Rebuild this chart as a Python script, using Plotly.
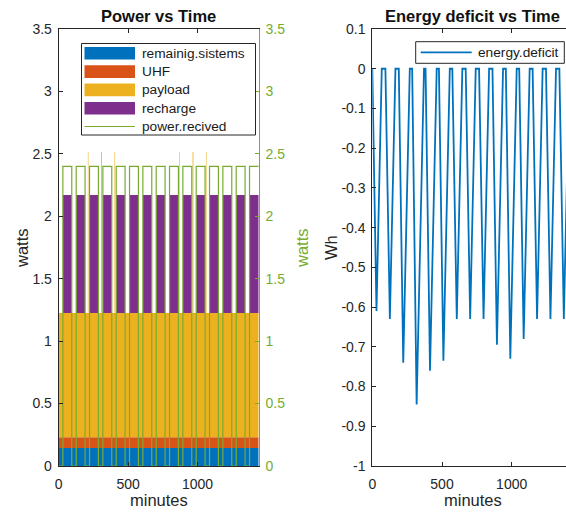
import plotly.graph_objects as go

# ---------------- data ----------------
sun_start = [30, 126, 222, 318, 414, 510, 606, 702, 798, 894, 990, 1086, 1182, 1278, 1374]
sun_end = [94, 190, 286, 382, 478, 574, 670, 766, 862, 958, 1054, 1150, 1246, 1342, 1440]
spike_start = [210, 306, 402, 868, 964, 1060]
spike_end = [214, 312, 406, 872, 970, 1064]

remaining_w = 0.145
uhf_w = 0.085
payload_w = 0.995
payload_spike_w = 2.285
recharge_w = 0.945
received_w = 2.4

deficit_t = [0, 30, 68, 94, 126, 166, 190, 222, 269, 286, 318, 371, 382, 414, 462,
             478, 510, 556, 574, 606, 646, 670, 702, 742, 766, 798, 838, 862, 894,
             938, 958, 990, 1036, 1054, 1086, 1129, 1150, 1182, 1222, 1246, 1278,
             1318, 1342, 1374, 1414, 1440]
deficit_wh = [0, -0.61, 0, 0, -0.63, 0, 0, -0.74, 0, 0, -0.845, 0, 0, -0.76, 0,
              0, -0.735, 0, 0, -0.63, 0, 0, -0.63, 0, 0, -0.63, 0, 0, -0.695,
              0, 0, -0.73, 0, 0, -0.68, 0, 0, -0.63, 0, 0, -0.63,
              0, 0, -0.63, 0, 0]

series_names = ["remainig.sistems", "UHF", "payload", "recharge", "power.recived"]
deficit_name = "energy.deficit"

x_ticks = [0, 500, 1000]
x_tick_text = ["0", "500", "1000"]
power_ticks = [0, 0.5, 1, 1.5, 2, 2.5, 3, 3.5]
power_tick_text = ["0", "0.5", "1", "1.5", "2", "2.5", "3", "3.5"]
energy_ticks = [0.1, 0, -0.1, -0.2, -0.3, -0.4, -0.5, -0.6, -0.7, -0.8, -0.9, -1]
energy_tick_text = ["0.1", "0", "-0.1", "-0.2", "-0.3", "-0.4", "-0.5", "-0.6",
                    "-0.7", "-0.8", "-0.9", "-1"]

# ---------------- styles ----------------
C_BLUE = "#0072BD"
C_ORANGE = "#D95319"
C_YELLOW = "#EDB120"
C_PURPLE = "#7E2F8E"
C_GREEN = "#77AC30"
C_AX = "#262626"
FONT = "Liberation Sans, Arial, sans-serif"
W, H = 566, 512


def px(x):
    return x / W


def py(y):
    return (H - y) / H


# step table built from the segment lists
edges = sorted(set([0, 1440] + sun_start + sun_end + spike_start + spike_end))


def in_any(t, starts, ends):
    return any(s <= t < e for s, e in zip(starts, ends))


rem, uhf, pay, rec, recv = [], [], [], [], []
for t in edges:
    tt = min(t, 1439.9)
    sun = in_any(tt, sun_start, sun_end)
    spike = in_any(tt, spike_start, spike_end)
    rem.append(remaining_w)
    uhf.append(uhf_w)
    pay.append(payload_spike_w if spike else payload_w)
    rec.append(recharge_w if sun else 0)
    recv.append(received_w if sun else 0)

fig = go.Figure()
for name, vals, col in zip(series_names[:4], [rem, uhf, pay, rec],
                           [C_BLUE, C_ORANGE, C_YELLOW, C_PURPLE]):
    fig.add_trace(go.Scatter(x=edges, y=vals, name=name, mode="lines",
                             stackgroup="power", fillcolor=col,
                             line=dict(width=0, shape="hv", color=col),
                             showlegend=False, xaxis="x", yaxis="y"))
fig.add_trace(go.Scatter(x=edges, y=recv, name=series_names[4], mode="lines",
                         line=dict(color=C_GREEN, width=1.2, shape="hv"),
                         showlegend=False, xaxis="x", yaxis="y2"))
fig.add_trace(go.Scatter(x=deficit_t, y=deficit_wh, name=deficit_name, mode="lines",
                         line=dict(color=C_BLUE, width=1.8),
                         showlegend=False, xaxis="x2", yaxis="y3"))

L0, L1 = 58.7, 258.7
R0, R1 = 372.3, 566
T0, B0 = 29, 466
tickfont = dict(family=FONT, size=14, color=C_AX)

common = dict(showgrid=False, zeroline=False, showline=True, linewidth=1,
              ticks="inside", ticklen=4, tickwidth=1, automargin=False)

fig.update_layout(
    width=W, height=H, margin=dict(l=0, r=0, t=0, b=0, pad=0, autoexpand=False),
    paper_bgcolor="white", plot_bgcolor="white", showlegend=False,
    xaxis=dict(domain=[px(L0), px(L1)], range=[0, 1440], anchor="y",
               tickvals=x_ticks, ticktext=x_tick_text, tickfont=tickfont,
               linecolor=C_AX, tickcolor=C_AX, mirror="ticks",
               ticklabelstandoff=5, **common),
    yaxis=dict(domain=[py(B0), py(T0)], range=[0, 3.5], anchor="x",
               tickvals=power_ticks, ticktext=power_tick_text, tickfont=tickfont,
               linecolor=C_AX, tickcolor=C_AX, ticklabelstandoff=3, **common),
    yaxis2=dict(overlaying="y", side="right", anchor="x", range=[0, 3.5],
                tickvals=power_ticks, ticktext=power_tick_text,
                tickfont=dict(family=FONT, size=14, color=C_GREEN),
                linecolor=C_GREEN, tickcolor=C_GREEN, ticklabelstandoff=3, **common),
    xaxis2=dict(domain=[px(R0), px(R1)], range=[0, 1389.6], anchor="y3",
                tickvals=x_ticks, ticktext=x_tick_text, tickfont=tickfont,
                linecolor=C_AX, tickcolor=C_AX, mirror="ticks",
                ticklabelstandoff=5, **common),
    yaxis3=dict(domain=[py(B0), py(T0)], range=[-1, 0.1], anchor="x2",
                tickvals=energy_ticks, ticktext=energy_tick_text, tickfont=tickfont,
                linecolor=C_AX, tickcolor=C_AX, ticklabelstandoff=3, **common),
)

ann = []
title_font = dict(family=FONT, size=16.5, color="#111111")
label_font = dict(family=FONT, size=16.5, color=C_AX)
ann.append(dict(text="<b>Power vs Time</b>", x=px((L0 + L1) / 2), y=py(16),
                xanchor="center", yanchor="middle", font=title_font))
ann.append(dict(text="<b>Energy deficit vs Time</b>", x=px(472.7), y=py(16),
                xanchor="center", yanchor="middle", font=title_font))
ann.append(dict(text="minutes", x=px((L0 + L1) / 2), y=py(500), xanchor="center",
                yanchor="middle", font=label_font))
ann.append(dict(text="minutes", x=px(472.7), y=py(500), xanchor="center",
                yanchor="middle", font=label_font))
ann.append(dict(text="watts", x=px(22), y=py(248), textangle=-90, xanchor="center",
                yanchor="middle", font=label_font))
ann.append(dict(text="watts", x=px(302), y=py(248), textangle=-90, xanchor="center",
                yanchor="middle", font=dict(family=FONT, size=16.5, color=C_GREEN)))
ann.append(dict(text="Wh", x=px(331), y=py(248), textangle=-90, xanchor="center",
                yanchor="middle", font=label_font))

shapes = []
# legend of the power plot
lg_font = dict(family=FONT, size=13.7, color="#1a1a1a")
shapes.append(dict(type="rect", xref="paper", yref="paper", x0=px(81.5), x1=px(255.5),
                   y0=py(135), y1=py(43.5), line=dict(color=C_AX, width=1),
                   fillcolor="white", layer="above"))
rows = [53.3, 71.6, 89.9, 108.2, 126.5]
for i, (name, col) in enumerate(zip(series_names[:4], [C_BLUE, C_ORANGE, C_YELLOW, C_PURPLE])):
    yc = rows[i]
    shapes.append(dict(type="rect", xref="paper", yref="paper", x0=px(84.5), x1=px(135),
                       y0=py(yc + 6.3), y1=py(yc - 6.3), line=dict(width=0),
                       fillcolor=col, layer="above"))
    ann.append(dict(text=name, x=px(140), y=py(yc), xanchor="left", yanchor="middle",
                    font=lg_font))
shapes.append(dict(type="line", xref="paper", yref="paper", x0=px(84.5), x1=px(135),
                   y0=py(rows[4]), y1=py(rows[4]), line=dict(color=C_GREEN, width=1.2),
                   layer="above"))
ann.append(dict(text=series_names[4], x=px(140), y=py(rows[4]), xanchor="left",
                yanchor="middle", font=lg_font))

# legend of the energy plot
shapes.append(dict(type="rect", xref="paper", yref="paper", x0=px(415.7), x1=px(564.3),
                   y0=py(63.3), y1=py(41.7), line=dict(color=C_AX, width=1),
                   fillcolor="white", layer="above"))
shapes.append(dict(type="line", xref="paper", yref="paper", x0=px(420.7), x1=px(471.7),
                   y0=py(52.3), y1=py(52.3), line=dict(color=C_BLUE, width=1.8),
                   layer="above"))
ann.append(dict(text=deficit_name, x=px(476), y=py(52.3), xanchor="left",
                yanchor="middle", font=lg_font))

for a in ann:
    a.update(xref="paper", yref="paper", showarrow=False)
fig.update_layout(annotations=ann, shapes=shapes)

fig.write_html("out.html", config={"displayModeBar": False},
               post_script="document.body.style.margin='0';"
                           "document.body.style.overflow='hidden';")
